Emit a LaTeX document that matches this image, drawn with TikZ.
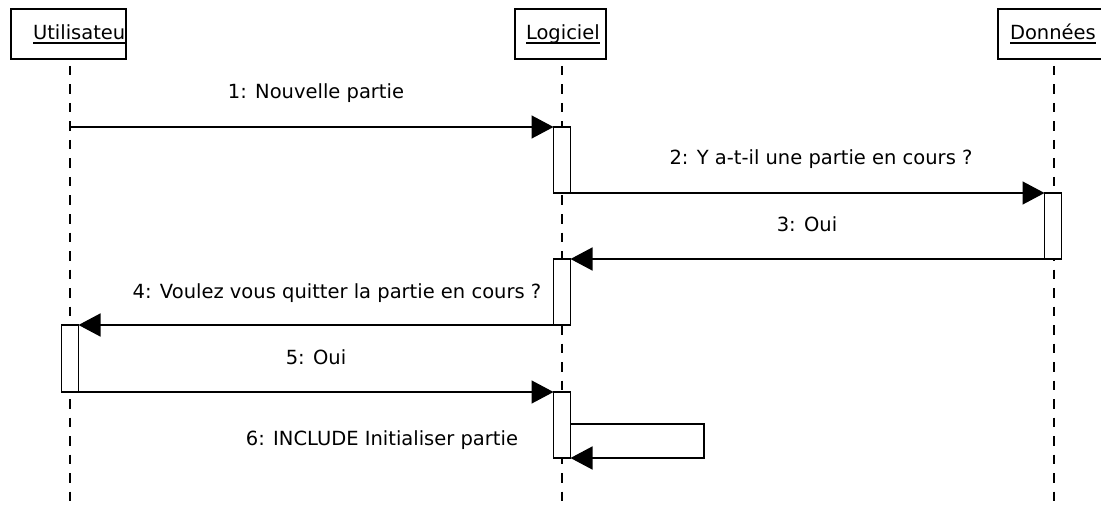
\documentclass[tikz,border=0pt]{standalone}
\usepackage{fontspec}
\setmainfont{DejaVu Sans}
\usetikzlibrary{arrows.meta,calc}
\begin{document}
\begin{tikzpicture}[x=1pt,y=-1pt,
  every node/.style={font=\fontsize{19.5}{23}\selectfont, inner sep=0pt, outer sep=0pt},
  actor/.style={draw, line width=1.5pt, minimum width=115pt, minimum height=50pt, anchor=north west},
  actorname/.style={anchor=base west},
  lifeline/.style={line width=1.5pt, dash pattern=on 9.5pt off 9pt},
  bar/.style={draw, fill=white, line width=1.5pt, minimum width=17pt, anchor=north},
  msg/.style={line width=1.5pt, -{Triangle[length=22pt,width=23pt]}},
  msglabel/.style={anchor=base}
]
\useasboundingbox (0,0) rectangle (1101,508);
\clip (0,0) rectangle (1101,508);

% lifelines
\draw[lifeline] (70,66) -- (70,508);
\draw[lifeline] (562,66) -- (562,508);
\draw[lifeline] (1054,66) -- (1054,508);

% actor boxes with underlined names
\node[actor] (uBox) at (11,9) {};
\node[actor, minimum width=91pt] (lBox) at (515,9) {};
\node[actor] (dBox) at (998,9) {};

\begin{scope}
  \clip (uBox.north west) rectangle (uBox.south east);
  \node[actorname] (uName) at (33,40) {Utilisateur};
  \draw[line width=1.3pt] ([yshift=-3pt]uName.base west) -- ([yshift=-3pt]uName.base east);
\end{scope}
\node[actorname] (lName) at (526,40) {Logiciel};
\draw[line width=1.3pt] ([yshift=-3pt]lName.base west) -- ([yshift=-3pt]lName.base east);
\node[actorname] (dName) at (1010,40) {Données};
\draw[line width=1.3pt] ([yshift=-3pt]dName.base west) -- ([yshift=-3pt]dName.base east);

% activation bars
\node[bar, minimum height=66pt] (b1) at (562,127) {};
\node[bar, minimum height=66pt] (b2) at (1053,193) {};
\node[bar, minimum height=66pt] (b3) at (562,259) {};
\node[bar, minimum height=67pt] (b4) at (70,325) {};
\node[bar, minimum height=66pt] (b5) at (562,392) {};

% messages
\coordinate (u1) at (70,127);
\draw[msg] (u1) -- (b1.north west);
\node[msglabel] (m1) at (316,99) {1: Nouvelle partie};

\draw[msg] (b1.south east) -- (b2.north west);
\node[msglabel] (m2) at (821,165) {2: Y a-t-il une partie en cours ?};

\draw[msg] (b2.south west) -- (b3.north east);
\node[msglabel] (m3) at (807,231) {3: Oui};

\draw[msg] (b3.south west) -- (b4.north east);
\node[msglabel] (m4) at (337,298) {4: Voulez vous quitter la partie en cours ?};

\draw[msg] (b4.south east) -- (b5.north west);
\node[msglabel] (m5) at (316,364) {5: Oui};

% self message
\coordinate (s1) at (704,424);
\coordinate (s2) at (704,458);
\draw[msg] (b5.east |- s1) -- (s1) -- (s2) -- (b5.south east);
\node[msglabel] (m6) at (382,445) {6: INCLUDE Initialiser partie};
\end{tikzpicture}
\end{document}
